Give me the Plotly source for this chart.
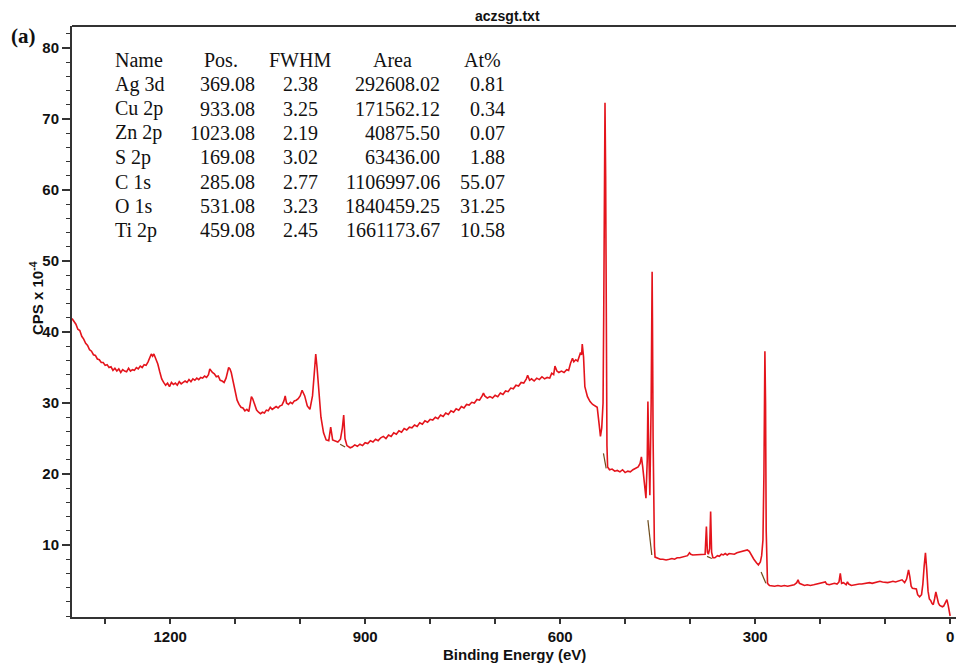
import plotly.graph_objects as go

# survey spectrum (binding energy in eV, CPS x 1e-4)
binding_energy = [
    1351, 1348, 1345, 1342, 1339, 1336, 1333, 1330, 1327, 1324, 1321, 1318, 1315, 1312, 1309, 1306,
    1303, 1300, 1297, 1294, 1291, 1288, 1285, 1282, 1279, 1276, 1273, 1270, 1267, 1264, 1261, 1258,
    1255, 1252, 1249, 1246, 1243, 1240, 1237, 1234, 1231, 1229, 1227, 1225, 1222, 1219, 1216, 1213,
    1210, 1207, 1204, 1201, 1198, 1195, 1192, 1189, 1186, 1183, 1180, 1177, 1174, 1171, 1168, 1165,
    1162, 1159, 1156, 1153, 1150, 1147, 1144, 1141, 1139, 1137, 1135, 1132, 1129, 1126, 1123, 1120,
    1117, 1114, 1112, 1110, 1108, 1106, 1103, 1100, 1097, 1094, 1091, 1088, 1085, 1082, 1079, 1077,
    1075, 1073, 1070, 1067, 1064, 1061, 1058, 1055, 1052, 1049, 1046, 1043, 1040, 1037, 1034, 1031,
    1028, 1025, 1023, 1021, 1018, 1015, 1012, 1009, 1006, 1003, 1000, 997, 993, 989, 985, 981,
    978, 976, 974, 971, 968, 964, 960, 956, 953, 950, 946, 942, 938, 935, 933, 931,
    928, 923, 920, 916, 912, 908, 904, 900, 896, 892, 888, 884, 880, 876, 872, 868,
    864, 860, 856, 852, 848, 844, 840, 836, 832, 828, 824, 820, 816, 812, 808, 804,
    800, 796, 792, 788, 784, 780, 776, 772, 768, 764, 760, 756, 752, 748, 744, 740,
    736, 732, 728, 724, 720, 718, 716, 712, 708, 704, 700, 696, 692, 688, 684, 680,
    676, 672, 668, 664, 660, 656, 652, 650, 647, 644, 640, 636, 632, 628, 624, 620,
    616, 613, 610, 608, 605, 602, 598, 594, 590, 587, 584, 581, 579, 576, 573, 571,
    569, 567, 566, 564, 562, 558, 554, 550, 546, 543, 540, 538, 536, 534, 533, 532,
    531, 530, 529, 528, 527, 524, 520, 516, 512, 508, 504, 500, 496, 492, 488, 484,
    480, 477, 475, 473, 470, 468, 466, 465, 464, 462, 460, 459, 458.5, 458, 457, 456,
    455, 454, 450, 446, 442, 437, 432, 428, 424, 420, 416, 412, 408, 404, 401, 399,
    396, 392, 388, 384, 380, 377, 375, 373.5, 372, 370, 368.5, 367, 365, 362, 358, 355,
    352, 349, 346, 343, 340, 336, 332, 328, 324, 320, 316, 312, 309, 306, 302, 298,
    295, 292, 290, 288, 286.5, 285, 284, 283, 282, 281, 278, 274, 270, 265, 260, 255,
    250, 245, 240, 236, 234, 232, 228, 224, 220, 215, 210, 206, 202, 198, 194, 192,
    190, 186, 182, 178, 174, 171, 169, 167, 164, 160, 158, 156, 152, 148, 144, 140,
    136, 132, 128, 124, 120, 116, 112, 108, 104, 100, 96, 92, 88, 84, 80, 76,
    74, 72, 70, 67, 64, 62, 60, 58, 55, 52, 50, 47, 44, 42, 40, 38,
    36, 34, 32, 30, 28, 26, 24, 22, 20, 18, 16, 14, 12, 10, 8, 6,
    5, 3, 1, 0,
]
cps = [
    41.9, 41.5, 41.1, 40.4, 40.2, 39.4, 39.0, 38.4, 38.1, 37.5, 37.3, 36.8, 36.7, 36.2, 36.1, 35.7,
    35.7, 35.3, 35.4, 35.0, 35.1, 34.6, 34.9, 34.5, 34.8, 34.3, 34.7, 34.5, 34.4, 34.9, 34.5, 34.7,
    34.6, 35.0, 34.8, 35.2, 35.0, 35.4, 35.3, 35.8, 36.5, 36.9, 36.6, 36.9, 36.2, 35.5, 34.4, 33.4,
    32.9, 32.5, 32.8, 32.3, 32.9, 32.6, 32.8, 32.5, 33.0, 32.7, 32.9, 33.1, 32.9, 33.3, 33.0, 33.4,
    33.2, 33.5, 33.3, 33.6, 33.5, 33.8, 33.6, 34.0, 34.8, 34.5, 34.3, 34.1, 33.7, 33.8, 33.2, 33.1,
    32.9, 33.5, 34.4, 35.0, 34.8, 34.3, 33.0, 31.6, 30.4, 29.8, 29.4, 29.3, 28.9, 29.1, 28.8, 29.8,
    30.9, 30.6, 29.8, 29.0, 28.7, 28.5, 28.7, 28.6, 29.0, 28.9, 29.4, 29.1, 29.3, 29.5, 29.3, 29.6,
    29.7, 30.3, 31.0, 30.0, 29.8, 30.1, 29.9, 30.3, 30.4, 30.6, 31.0, 31.8, 31.0, 29.6, 29.1, 31.0,
    34.5, 36.9, 35.0, 31.0, 28.0, 25.8, 24.8, 24.7, 26.6, 24.8, 24.6, 24.5, 24.9, 26.5, 28.3, 25.0,
    24.0, 23.7, 23.8, 24.1, 23.9, 24.2, 24.0, 24.4, 24.3, 24.7, 24.5, 24.9, 24.7, 25.1, 25.3, 25.0,
    25.5, 25.3, 25.8, 25.6, 26.1, 25.9, 26.4, 26.2, 26.6, 26.5, 26.9, 26.7, 27.2, 27.0, 27.5, 27.3,
    27.7, 27.6, 28.0, 27.8, 28.3, 28.1, 28.6, 28.4, 28.9, 28.7, 29.2, 29.0, 29.5, 29.3, 29.8, 29.7,
    30.1, 30.0, 30.5, 30.4, 31.0, 31.4, 31.0, 30.7, 30.9, 30.7, 31.1, 30.9, 31.4, 31.2, 31.7, 31.6,
    32.1, 32.0, 32.5, 32.4, 32.9, 32.8, 33.4, 33.9, 33.2, 33.4, 33.1, 33.5, 33.3, 33.7, 33.4, 33.6,
    33.5, 34.2, 34.0, 35.2, 34.5, 34.3, 34.5, 34.3, 34.7, 34.6, 35.6, 36.3, 35.8, 36.1, 35.9, 36.6,
    37.0, 36.8, 38.3, 36.5, 32.3, 30.9, 30.2, 29.8, 29.5, 29.4, 27.0, 25.3, 26.5, 30.0, 42.0, 62.0,
    72.3, 62.0, 38.0, 24.0, 21.0, 20.6, 20.7, 20.4, 20.5, 20.3, 20.6, 20.2, 20.4, 20.3, 20.6, 20.8,
    21.0, 21.5, 22.4, 21.0, 18.5, 16.6, 22.0, 30.2, 25.0, 17.0, 30.0, 42.0, 48.5, 42.0, 25.0, 12.0,
    9.8, 8.3, 8.1, 8.0, 8.0, 7.9, 8.0, 8.1, 8.0, 8.2, 8.2, 8.3, 8.4, 8.5, 8.9, 8.7,
    8.6, 8.6, 8.6, 8.6, 8.6, 8.7, 12.6, 9.0, 8.7, 9.5, 14.7, 9.0, 8.2, 8.2, 8.5, 8.4,
    8.7, 8.6, 8.8, 8.6, 8.8, 8.8, 8.7, 8.9, 9.0, 9.2, 9.3, 9.3, 9.1, 8.6, 8.0, 7.5,
    7.2, 7.6, 8.5, 10.7, 20.0, 37.3, 30.0, 12.0, 5.5, 4.6, 4.3, 4.2, 4.2, 4.3, 4.2, 4.3,
    4.2, 4.3, 4.4, 4.7, 5.1, 4.6, 4.4, 4.3, 4.4, 4.3, 4.4, 4.5, 4.5, 4.6, 4.7, 4.8,
    4.5, 4.4, 4.5, 4.6, 4.5, 4.8, 6.0, 4.6, 4.7, 4.4, 4.8, 4.5, 4.3, 4.4, 4.4, 4.5,
    4.5, 4.6, 4.6, 4.7, 4.6, 4.7, 4.8, 4.9, 4.8, 4.7, 4.7, 4.8, 4.9, 4.8, 4.9, 5.0,
    5.1, 4.9, 4.7, 5.2, 6.5, 5.5, 4.2, 3.9, 3.9, 3.8, 3.0, 2.7, 3.0, 4.5, 7.0, 8.9,
    6.5, 3.5, 2.4, 2.2, 1.8, 1.6, 2.4, 3.4, 2.6, 1.8, 1.5, 1.4, 1.3, 1.4, 1.7, 2.1,
    2.3, 1.5, 0.5, 0.0,
]

# short background lines under the fitted peaks (start/end energy, start/end cps)
bg_energy = [[938.5, 930.8], [533.4, 529.2], [465.0, 459.0], [374.0, 366.7], [290.8, 283.5]]
bg_cps = [[24.2, 23.8], [22.9, 20.8], [13.5, 8.6], [8.4, 8.1], [6.2, 4.6]]

# quantification table
tbl_name = ["Ag 3d", "Cu 2p", "Zn 2p", "S 2p", "C 1s", "O 1s", "Ti 2p"]
tbl_pos = ["369.08", "933.08", "1023.08", "169.08", "285.08", "531.08", "459.08"]
tbl_fwhm = ["2.38", "3.25", "2.19", "3.02", "2.77", "3.23", "2.45"]
tbl_area = ["292608.02", "171562.12", "40875.50", "63436.00", "1106997.06", "1840459.25", "1661173.67"]
tbl_at = ["0.81", "0.34", "0.07", "1.88", "55.07", "31.25", "10.58"]

W, H = 956, 663
L, T, B = 72, 26, 46
PW, PH = W - L, H - T - B


def px(x):
    return (x - L) / PW


def py(y):
    return (H - B - y) / PH


fig = go.Figure()
fig.add_trace(go.Scatter(x=binding_energy, y=cps, mode="lines",
                         line=dict(color="#e4141c", width=1.6), showlegend=False))
for e, c in zip(bg_energy, bg_cps):
    fig.add_trace(go.Scatter(x=e, y=c, mode="lines",
                             line=dict(color="#6e4c1c", width=1.2), showlegend=False))

serif = "Liberation Serif, Times New Roman, serif"
sans = "Liberation Sans, Arial, sans-serif"
ann = []

# table header + rows
row_y = [60 + 24.3 * i for i in range(8)]
headers = [("Name", 113, "left"), ("Pos.", 240, "right"), ("FWHM", 300, "center"),
           ("Area", 392, "center"), ("At%", 503, "right")]
for txt, x, anc in headers:
    ann.append(dict(text=txt, x=px(x), y=py(row_y[0]), xanchor=anc))
cols = [(tbl_name, 113, "left"), (tbl_pos, 257, "right"), (tbl_fwhm, 300, "center"),
        (tbl_area, 442, "right"), (tbl_at, 507, "right")]
for vals, x, anc in cols:
    for i, v in enumerate(vals):
        ann.append(dict(text=v, x=px(x), y=py(row_y[i + 1]), xanchor=anc))
for a in ann:
    a.update(xref="paper", yref="paper", yanchor="middle", showarrow=False,
             font=dict(family=serif, size=20, color="#111"))

ann.append(dict(text="<b>(a)</b>", x=px(23), y=py(36), xref="paper", yref="paper",
                showarrow=False, xanchor="center", yanchor="middle",
                font=dict(family=serif, size=21, color="#111")))
ann.append(dict(text="<b>aczsgt.txt</b>", x=px(507), y=py(16), xref="paper", yref="paper",
                showarrow=False, xanchor="center", yanchor="middle",
                font=dict(family=sans, size=14, color="#111")))
ann.append(dict(text="<b>Binding Energy (eV)</b>", x=px(514), y=py(654), xref="paper", yref="paper",
                showarrow=False, xanchor="center", yanchor="middle",
                font=dict(family=sans, size=15, color="#111")))
ann.append(dict(text="<b>CPS x 10<sup>-4</sup></b>", x=px(36), y=py(298), xref="paper", yref="paper",
                showarrow=False, xanchor="center", yanchor="middle", textangle=-90,
                font=dict(family=sans, size=15, color="#111")))

fig.update_layout(
    width=W, height=H,
    margin=dict(l=L, r=0, t=T, b=B),
    plot_bgcolor="white", paper_bgcolor="white",
    annotations=ann,
    # frame line along the top of the plot area
    shapes=[dict(type="line", xref="paper", yref="paper", x0=0, x1=1, y0=1, y1=1,
                 line=dict(color="#333", width=2))],
    xaxis=dict(range=[1351, -9], showgrid=False, zeroline=False,
               showline=True, linecolor="#333", linewidth=2,
               ticks="outside", ticklen=5, tickwidth=1.5, tickcolor="#333",
               tick0=0, dtick=300,
               minor=dict(dtick=100, ticks="outside", ticklen=5, tickwidth=1.5, tickcolor="#333"),
               tickfont=dict(family=sans, size=15, color="#111", weight="bold")),
    yaxis=dict(range=[-0.14, 83.1], showgrid=False, zeroline=False,
               showline=True, linecolor="#333", linewidth=2,
               ticks="outside", ticklen=8, tickwidth=1.5, tickcolor="#333",
               tickvals=[10, 20, 30, 40, 50, 60, 70, 80],
               minor=dict(dtick=2, ticks="outside", ticklen=4, tickwidth=1.2, tickcolor="#333"),
               tickfont=dict(family=sans, size=15, color="#111", weight="bold")),
)

# page body has a default 8px margin; drop it so the figure fills the window
fig.write_html("out.html", config={"displayModeBar": False},
               post_script="document.body.style.margin='0';document.body.style.overflow='hidden';")
